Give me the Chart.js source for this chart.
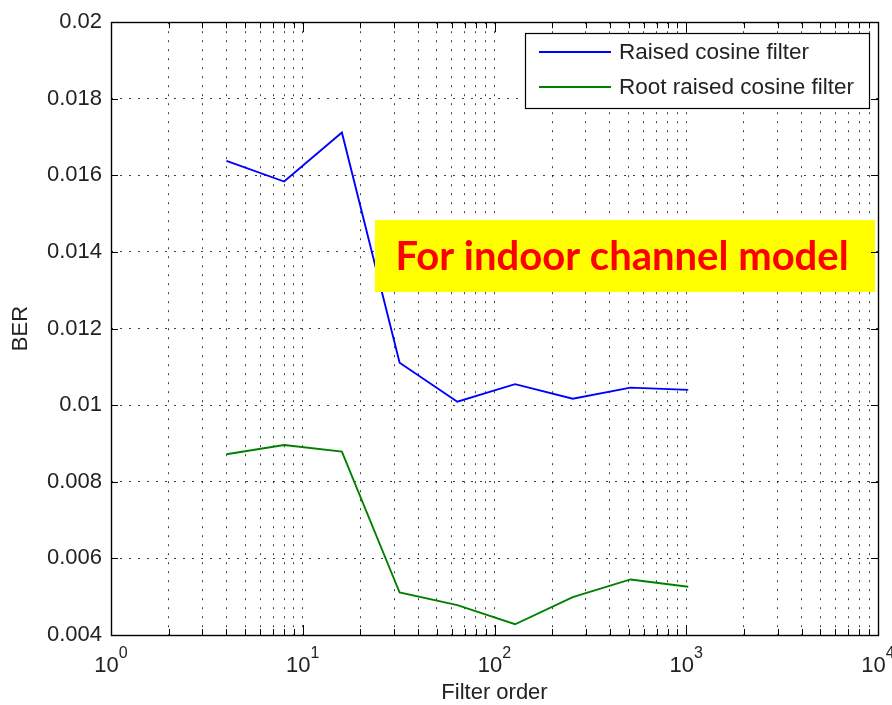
<!DOCTYPE html>
<html>
<head>
<meta charset="utf-8">
<script src="https://cdn.jsdelivr.net/npm/chart.js@4.4.0/dist/chart.umd.min.js"></script>
<style>
  html, body { margin: 0; padding: 0; background: #fff; }
  #wrap { width: 892px; height: 705px; }
</style>
</head>
<body>
<div id="wrap"><canvas id="berChart" width="892" height="705"></canvas></div>
<script>
// values
var filterOrder = [4, 8, 16, 32, 64, 128, 256, 512, 1024];
var berRaised = [0.01638, 0.01584, 0.01712, 0.01111, 0.01009, 0.01055, 0.01017, 0.01046, 0.01040];
var berRootRaised = [0.00872, 0.00896, 0.00879, 0.00511, 0.00478, 0.00428, 0.00499, 0.00545, 0.00526];
var seriesNames = ['Raised cosine filter', 'Root raised cosine filter'];
var seriesColors = ['#0000ff', '#008000'];
var decades = [1, 10, 100, 1000, 10000];
var mantissas = [1, 2, 3, 4, 5, 6, 7, 8, 9];
var noteText = 'For indoor channel model';

var FONT = "'Liberation Sans', Arial, sans-serif";

function toPoints(xs, ys) {
    var out = [];
    for (var i = 0; i < xs.length; i++) {
        out.push({x: xs[i], y: ys[i]});
    }
    return out;
}

// all tick values on the log axis (1..9 per decade)
var xTickValues = [];
for (var d = 0; d < decades.length - 1; d++) {
    for (var m = 0; m < mantissas.length; m++) {
        xTickValues.push(decades[d] * mantissas[m]);
    }
}
xTickValues.push(decades[decades.length - 1]);

// frame, inward ticks, exponent labels, legend and the yellow note
var matlabLook = {
    id: 'matlabLook',
    afterDraw: function (chart) {
        var ctx = chart.ctx;
        var a = chart.chartArea;
        var xs = chart.scales.x;
        var ys = chart.scales.y;
        ctx.save();

        // yellow note
        var bx = 375, by = 220, bw = 500, bh = 72;
        ctx.fillStyle = '#ffff00';
        ctx.fillRect(bx, by, bw, bh);
        var size = 40;
        ctx.font = 'bold ' + size + "px Lato, 'Open Sans', sans-serif";
        var w = ctx.measureText(noteText).width;
        size = size * 453 / w;
        ctx.font = 'bold ' + size.toFixed(1) + "px Lato, 'Open Sans', sans-serif";
        ctx.fillStyle = '#ff0000';
        ctx.textAlign = 'center';
        ctx.textBaseline = 'middle';
        ctx.fillText(noteText, bx + bw / 2 - 3, by + bh / 2 + 1);

        // frame
        ctx.strokeStyle = '#000';
        ctx.lineWidth = 1.4;
        ctx.strokeRect(Math.round(a.left) + 0.5, Math.round(a.top) + 0.5,
            Math.round(a.right - a.left), Math.round(a.bottom - a.top));

        // x ticks, bottom and top
        ctx.lineWidth = 1;
        ctx.beginPath();
        xs.ticks.forEach(function (t) {
            var px = Math.round(xs.getPixelForValue(t.value)) + 0.5;
            var major = decades.indexOf(t.value) >= 0;
            var len = major ? 10 : 6;
            ctx.moveTo(px, a.bottom);
            ctx.lineTo(px, a.bottom - len);
            ctx.moveTo(px, a.top);
            ctx.lineTo(px, a.top + len);
        });
        // y ticks, left and right
        ys.ticks.forEach(function (t) {
            var py = Math.round(ys.getPixelForValue(t.value)) + 0.5;
            ctx.moveTo(a.left, py);
            ctx.lineTo(a.left + 7, py);
            ctx.moveTo(a.right, py);
            ctx.lineTo(a.right - 7, py);
        });
        ctx.stroke();

        // 10^n labels
        ctx.fillStyle = '#222';
        ctx.textBaseline = 'alphabetic';
        ctx.textAlign = 'left';
        decades.forEach(function (v, i) {
            var px = xs.getPixelForValue(v);
            ctx.font = '22px ' + FONT;
            var wb = ctx.measureText('10').width;
            ctx.font = '16px ' + FONT;
            var we = ctx.measureText(String(i)).width;
            var x0 = px - (wb + we) / 2;
            ctx.font = '22px ' + FONT;
            ctx.fillText('10', x0, a.bottom + 37);
            ctx.font = '16px ' + FONT;
            ctx.fillText(String(i), x0 + wb, a.bottom + 23);
        });

        // legend
        var lx = 525, ly = 33, lw = 344, lh = 75;
        ctx.fillStyle = '#fff';
        ctx.fillRect(lx, ly, lw, lh);
        ctx.strokeStyle = '#000';
        ctx.lineWidth = 1.2;
        ctx.strokeRect(lx + 0.5, ly + 0.5, lw, lh);
        ctx.font = '22.5px ' + FONT;
        ctx.textBaseline = 'middle';
        chart.data.datasets.forEach(function (ds, i) {
            var yy = ly + 19 + i * 35;
            ctx.strokeStyle = ds.borderColor;
            ctx.lineWidth = 1.8;
            ctx.beginPath();
            ctx.moveTo(lx + 14, yy);
            ctx.lineTo(lx + 86, yy);
            ctx.stroke();
            ctx.fillStyle = '#222';
            ctx.fillText(ds.label, lx + 94, yy + 1);
        });
        ctx.restore();
    }
};

var gridDots = {
    color: 'rgba(0,0,0,0.75)',
    lineWidth: 1,
    drawTicks: false
};

var chart = new Chart(document.getElementById('berChart'), {
    type: 'line',
    data: {
        datasets: [
            {
                label: seriesNames[0],
                data: toPoints(filterOrder, berRaised),
                borderColor: seriesColors[0],
                borderWidth: 1.9,
                pointRadius: 0,
                tension: 0,
                fill: false
            },
            {
                label: seriesNames[1],
                data: toPoints(filterOrder, berRootRaised),
                borderColor: seriesColors[1],
                borderWidth: 1.9,
                pointRadius: 0,
                tension: 0,
                fill: false
            }
        ]
    },
    options: {
        responsive: false,
        animation: false,
        layout: { padding: { left: 0, right: 14, top: 20, bottom: 0 } },
        plugins: {
            legend: { display: false },
            tooltip: { enabled: false }
        },
        scales: {
            x: {
                type: 'logarithmic',
                min: 1,
                max: 10000,
                afterBuildTicks: function (scale) {
                    scale.ticks = xTickValues.map(function (v) { return {value: v}; });
                },
                afterFit: function (scale) { scale.height = 70; },
                ticks: { display: false, autoSkip: false },
                grid: gridDots,
                border: { display: false, dash: [2, 7] },
                title: {
                    display: true,
                    text: 'Filter order',
                    color: '#222',
                    font: { family: FONT, size: 22, lineHeight: 1 },
                    padding: { top: 0, bottom: 1 }
                }
            },
            y: {
                type: 'linear',
                min: 0.004,
                max: 0.02,
                afterFit: function (scale) { scale.width = 111; },
                ticks: {
                    stepSize: 0.002,
                    padding: 9,
                    color: '#222',
                    font: { family: FONT, size: 22 },
                    callback: function (v) { return String(+v.toFixed(3)); }
                },
                grid: gridDots,
                border: { display: false, dash: [2, 7] },
                title: {
                    display: true,
                    text: 'BER',
                    color: '#222',
                    font: { family: FONT, size: 22, lineHeight: 1 },
                    padding: { top: 10, bottom: 0 }
                }
            }
        }
    },
    plugins: [matlabLook]
});
</script>
</body>
</html>
